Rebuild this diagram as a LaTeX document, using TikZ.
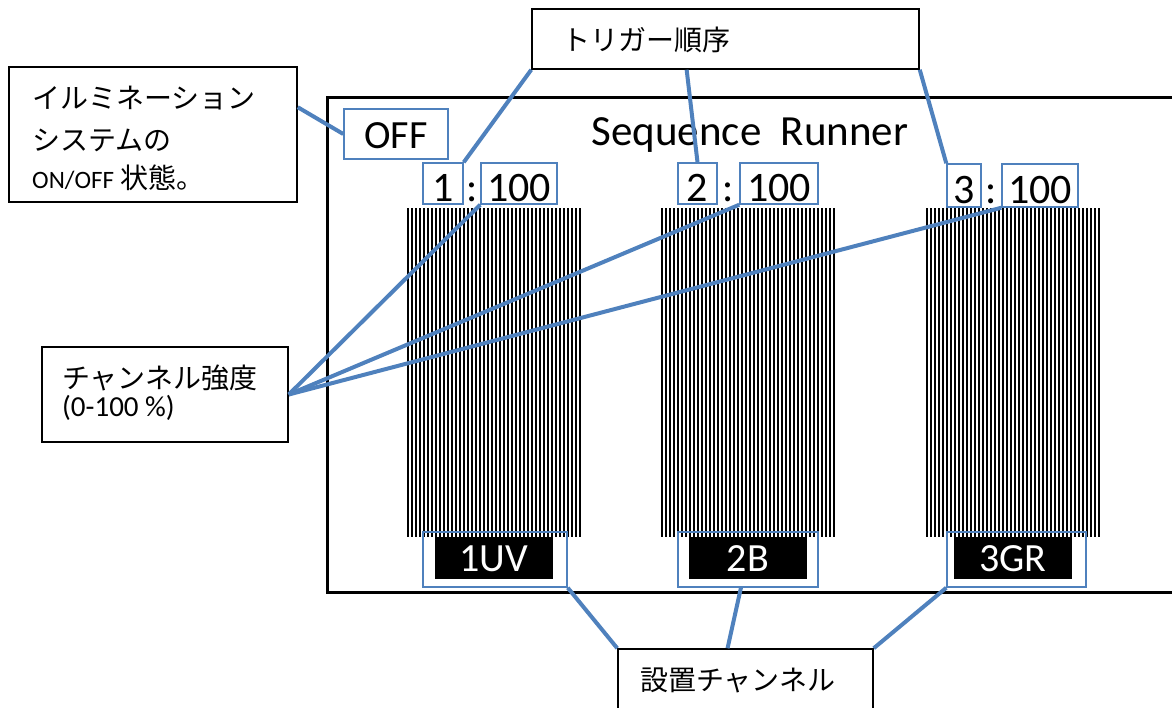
\documentclass[tikz,border=0pt]{standalone}
\usepackage{fontspec}
\setmainfont{Carlito}
\newfontfamily\jp{Noto Sans CJK JP}
\usetikzlibrary{calc}
\definecolor{cblue}{HTML}{4F81BD}
\begin{document}
\begin{tikzpicture}[x=1pt,y=-1pt,
  callout/.style={draw=black, line width=1.5pt, inner sep=0pt, fill=white},
  bbox/.style={draw=cblue, line width=1.5pt, inner sep=0pt},
  conn/.style={draw=cblue, line width=4pt},
  blackbox/.style={fill=black, inner sep=0pt},
  big/.style={font=\fontsize{42}{42}\selectfont, inner sep=0pt, anchor=base},
  lab/.style={font=\fontsize{40}{40}\selectfont, text=white, inner sep=0pt, anchor=base},
  jtext/.style={font=\jp\fontsize{28}{28}\selectfont, inner sep=0pt, anchor=west},
  stripe/.style={line width=2pt, black}]
\useasboundingbox (0,0) rectangle (1172,707);
% frame
\node[draw=black, line width=3pt, minimum width=858pt, minimum height=495pt, inner sep=0pt] (frame) at (756,344.5) {};
\node[font=\fontsize{43}{43}\selectfont, inner sep=0pt, anchor=base] (title) at (750,145) {Sequence\hspace{0.45em}Runner};
% stripes
\foreach \x in {407,661,926}{
  \foreach \i in {0,...,43}{
    \draw[stripe] (\x+1+4*\i,208) -- (\x+1+4*\i,537);
  }
}
% black labels
\node[blackbox, minimum width=118pt, minimum height=42pt] (k1) at (494,558) {};
\node[blackbox, minimum width=118pt, minimum height=42pt] (k2) at (748,558) {};
\node[blackbox, minimum width=118pt, minimum height=42pt] (k3) at (1013,558) {};
\node[lab] (t1) at (494,571) {1UV};
\node[lab] (t2) at (748,571) {2B};
\node[lab] (t3) at (1013,571) {3GR};
% blue boxes
\node[bbox, minimum width=104pt, minimum height=50pt] (OFF) at (396,134) {};
\node[font=\fontsize{40}{40}\selectfont, inner sep=0pt, anchor=base] (offt) at (396,148) {OFF};
\node[bbox, minimum width=40pt, minimum height=41pt] (n1) at (443,183.5) {};
\node[bbox, minimum width=76pt, minimum height=41pt] (v1) at (519,183.5) {};
\node[bbox, minimum width=39pt, minimum height=41pt] (n2) at (697.5,183.5) {};
\node[bbox, minimum width=78pt, minimum height=41pt] (v2) at (779,183.5) {};
\node[bbox, minimum width=34pt, minimum height=43pt] (n3) at (964,185.5) {};
\node[bbox, minimum width=76pt, minimum height=43pt] (v3) at (1040,185.5) {};
\node[big] (n1t) at (443,201) {1};
\node[big] (c1) at (472,201) {:};
\node[big] (v1t) at (519,201) {100};
\node[big] (n2t) at (697.5,201) {2};
\node[big] (c2) at (728,201) {:};
\node[big] (v2t) at (779,201) {100};
\node[big] (n3t) at (964,203) {3};
\node[big] (c3) at (991,203) {:};
\node[big] (v3t) at (1040,203) {100};
\node[bbox, minimum width=144pt, minimum height=55pt] (L1) at (495,559.5) {};
\node[bbox, minimum width=140pt, minimum height=55pt] (L2) at (748,559.5) {};
\node[bbox, minimum width=139pt, minimum height=55pt] (L3) at (1016.5,559.5) {};
% callouts
\node[callout, minimum width=288pt, minimum height=135pt] (A) at (153,134.5) {};
\node[callout, minimum width=387pt, minimum height=60pt] (B) at (725.5,39) {};
\node[callout, minimum width=246pt, minimum height=95pt] (C) at (165,394.5) {};
\node[callout, minimum width=255pt, minimum height=81pt] (D) at (745.5,689.5) {};
\node[jtext] (a1) at (32,98) {イルミネーション};
\node[jtext] (a2) at (32,140) {システムの};
\node[jtext] (a3) at (32,178) {{\rmfamily\fontsize{25}{25}\selectfont ON/OFF} 状態。};
\node[jtext] (b1) at (562,40) {トリガー順序};
\node[jtext] (c1t) at (62,378) {チャンネル強度};
\node[inner sep=0pt, anchor=west, font=\fontsize{29}{29}\selectfont] (c2t) at (62,408) {(0-100 \%)};
\node[jtext] (d1) at (640,680) {設置チャンネル};
% connectors
\draw[conn] ($(A.north east)!0.3!(A.south east)$) -- (OFF.west);
\draw[conn] (B.south west) -- (n1.north east);
\draw[conn] ($(B.south west)!0.4!(B.south east)$) -- (n2.north);
\draw[conn] (B.south east) -- (n3.north west);
\draw[conn] (C.east) -- (v1.south west);
\draw[conn] (C.east) -- (v2.south west);
\draw[conn] (C.east) -- (v3.south west);
\draw[conn] (D.north west) -- (L1.south east);
\draw[conn] ($(D.north west)!0.43!(D.north east)$) -- ($(L2.south west)!0.45!(L2.south east)$);
\draw[conn] (D.north east) -- (L3.south west);
\end{tikzpicture}
\end{document}
